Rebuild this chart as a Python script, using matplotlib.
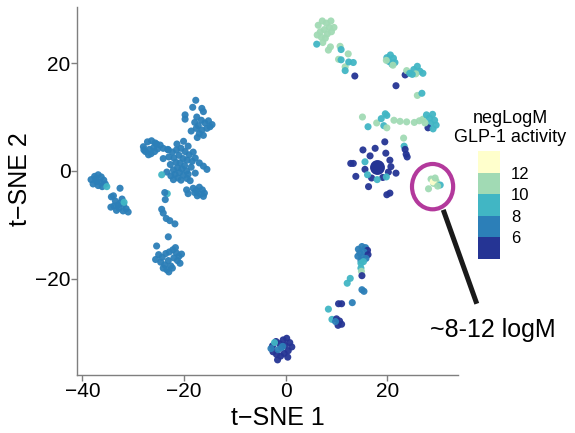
import matplotlib
matplotlib.use("Agg")
import matplotlib.pyplot as plt
import numpy as np
from matplotlib.colors import BoundaryNorm, ListedColormap
from matplotlib.patches import Ellipse

plt.rcParams["font.family"] = ["Liberation Sans", "DejaVu Sans"]

# activity levels used for colouring: 5 (<6), 7 (6-8), 9 (8-10), 11 (10-12), 13 (>12)
bounds = [4, 6, 8, 10, 12, 14]
level_colors = ["#253494", "#2c7fb8", "#41b6c4", "#a1dab4", "#ffffcc"]
cbar_ticks = [6, 8, 10, 12]

# far-left cluster
left_x = [-38.3, -37.6, -36.9, -36.3, -37.2, -36.5, -35.8, -37.9, -36.9, -36.1, -37.4, -35.5,
          -34.3, -33.5, -32.6, -33.0, -32.2, -33.8, -32.8, -31.9, -31.4, -34.4, -33.3, -32.5,
          -33.9, -31.0, -32.0, -35.2, -31.8]
left_y = [-1.6, -1.0, -0.7, -1.1, -2.0, -2.1, -1.7, -2.4, -2.7, -2.9, -1.4, -2.4,
          -4.8, -5.6, -3.2, -6.3, -5.2, -6.5, -6.9, -6.2, -7.0, -6.7, -7.3, -5.9,
          -4.6, -7.6, -7.4, -2.9, -5.8]
left_v = [7] * 27 + [9, 9]

# central left cluster
mid_x = [-22.3, -21.5, -20.6, -19.8, -19.0, -21.0, -22.0, -20.2, -19.4, -21.6, -20.8, -22.7,
         -19.9, -21.3, -20.4, -22.1, -19.5, -20.9, -21.8, -20.1, -22.6, -19.2, -21.2, -20.6,
         -22.1, -19.4, -18.6, -18.4, -21.4, -20.1, -19.2, -17.8, -16.2, -17.8, -18.8, -23.0,
         -23.4, -23.2, -18.2, -17.0, -15.5, -19.5,
         -18.2, -17.6, -17.0, -16.4, -16.0, -16.8, -17.4, -16.2, -17.9, -19.2]
mid_y = [3.5, 3.9, 4.2, 3.6, 3.0, 2.9, 2.4, 2.3, 2.0, 1.6, 1.5, 1.2,
         1.0, 0.6, 0.4, 0.2, 0.0, -0.3, -0.6, -0.8, -0.9, -0.6, -1.3, -1.7,
         -1.6, -1.4, 0.7, 1.8, 5.0, 5.5, 4.6, 2.4, 0.9, -0.4, -1.8, 2.6,
         -0.2, 4.0, 3.5, 1.5, 0.3, -3.5,
         -3.2, -3.6, -3.0, -3.5, -4.1, -4.3, -4.6, -4.7, -4.0, -4.2]
mid_v = [7] * 52

# upper-left arm
arm_x = [-28.0, -27.2, -26.4, -25.7, -24.7, -27.6, -26.8, -26.0, -26.5, -25.8, -27.9, -25.2,
         -24.1, -23.1, -24.1, -25.4, -27.0]
arm_y = [4.5, 5.4, 5.6, 5.2, 4.8, 3.6, 4.0, 4.3, 3.2, 3.6, 3.9, 4.1,
         4.2, 3.9, 2.3, 5.0, 3.0]
arm_v = [7] * 17

# top cluster of the left group
up_x = [-17.7, -18.3, -16.5, -16.2, -19.8, -19.8, -17.5, -17.9, -17.2, -15.9, -14.9, -15.5,
        -16.5, -17.6, -17.0, -16.2, -17.4, -14.5, -15.2, -16.6, -18.6]
up_y = [13.1, 11.8, 11.6, 11.0, 10.4, 9.6, 10.0, 9.0, 8.4, 8.9, 8.2, 7.9,
        7.6, 7.9, 6.9, 6.6, 6.2, 8.6, 9.3, 9.4, 7.4]
up_v = [7] * 21

# chain and lower cluster of the left group
low_x = [-24.4, -23.3, -23.8, -23.7, -24.4, -24.1, -23.5, -22.8, -21.8, -23.1,
         -25.4, -25.0, -24.3, -23.6, -24.6, -23.8, -23.1, -22.6, -23.4, -24.1, -22.9,
         -22.2, -21.5, -21.0, -20.5, -21.3, -20.8, -22.0, -21.7, -23.0, -22.3, -25.6]
low_y = [-0.7, -4.2, -4.0, -5.3, -7.1, -7.8, -8.8, -9.2, -9.8, -12.2,
         -13.9, -15.5, -16.0, -15.3, -16.9, -17.4, -16.6, -17.6, -18.3, -18.0, -15.0,
         -14.6, -15.2, -15.8, -15.4, -16.6, -17.1, -16.1, -14.2, -18.7, -18.0, -16.4]
low_v = [9, 9] + [7] * 30

# bottom cluster near x=0
bot_x = [-2.6, -1.9, -1.2, -0.5, 0.2, 0.8, 1.2, 0.5, -0.3, -1.0, -1.8, -2.5,
         -1.5, -0.8, -0.1, -2.2, -1.6, 0.4, -2.9, -0.6]
bot_y = [-32.4, -31.6, -32.0, -31.3, -31.0, -31.8, -32.6, -33.3, -33.8, -34.3, -34.0, -33.5,
         -33.1, -32.7, -32.3, -31.8, -35.0, -34.5, -32.9, -32.5]
bot_v = [5] * 12 + [7, 7, 5, 9, 5, 5, 7, 7]

# top right cluster
top_x = [6.4, 7.2, 8.0, 8.6, 7.6, 6.8, 8.2, 9.0, 9.5, 7.0, 7.8, 6.2, 7.3, 8.4, 10.7, 12.3,
         10.4, 11.7, 8.8, 8.9, 6.1, 10.9, 10.9, 12.4, 13.3, 11.7, 13.6]
top_y = [27.0, 27.8, 27.4, 26.6, 26.2, 25.8, 25.4, 25.8, 26.6, 24.8, 24.6, 25.2, 23.8, 22.4,
         23.1, 21.7, 20.7, 19.3, 23.0, 27.8, 23.5, 22.5, 20.6, 20.2, 20.1, 18.6, 17.6]
top_v = [11] * 20 + [9] * 6 + [5]

# right clusters around y=18
r18_x = [19.9, 20.6, 21.2, 20.3, 21.5, 20.9, 21.1, 19.8, 23.5, 21.7,
         23.8, 24.4, 25.2, 25.9, 26.4, 27.0, 25.6, 24.9, 25.9, 26.8]
r18_y = [21.0, 21.5, 20.9, 20.3, 20.1, 19.8, 19.6, 20.5, 17.8, 15.8,
         18.6, 18.1, 18.8, 19.4, 18.5, 18.1, 18.0, 17.9, 14.0, 14.4]
r18_v = [9, 9, 9, 9, 9, 9, 11, 11, 5, 5,
         11, 9, 9, 9, 9, 9, 11, 9, 11, 9]

# row around y=9 and its tail
r9_x = [15.1, 16.2, 17.9, 18.8, 19.9, 19.3, 19.9, 19.6, 21.3, 22.5, 23.8, 25.3, 27.0, 27.7,
        28.3, 28.9, 29.3, 28.5, 29.6, 28.0, 27.4, 29.0, 26.3,
        23.2, 23.3, 23.5, 23.7, 23.9]
r9_y = [10.0, 8.2, 8.9, 9.7, 10.3, 8.4, 8.0, 10.6, 9.4, 9.2, 9.1, 9.0, 9.6, 10.4,
        9.8, 10.5, 9.4, 8.8, 8.5, 8.0, 8.9, 7.8, 9.3,
        6.1, 4.6, 4.0, 3.1, 2.6]
r9_v = [11, 9, 11, 9, 9, 9, 11, 9, 11, 11, 11, 11, 11, 9,
        9, 9, 9, 9, 9, 5, 11, 9, 11,
        11, 9, 5, 5, 5]

# dark ring cluster
ring_x = [12.8, 13.3, 15.2, 16.6, 17.6, 19.5, 19.7, 20.5, 20.7, 21.7, 20.2, 19.1, 16.9,
          15.6, 13.8, 16.3, 19.9, 20.5, 15.6, 16.1, 18.0, 19.8]
ring_y = [1.4, 1.4, 3.9, 2.8, 4.2, 5.4, 3.3, 2.0, 0.8, -0.4, -0.2, -1.2, -1.3,
          0.3, -1.0, -2.9, -4.4, -4.1, 1.7, -0.7, -1.6, -1.1]
ring_v = [5] * 18 + [9, 9, 9, 9]
hub_x, hub_y, hub_v = [17.9], [0.8], [5]

# circled cluster
circ_x = [28.6, 29.1, 29.6, 30.4, 28.1, 29.0, 29.9, 29.4]
circ_y = [-1.5, -2.3, -1.9, -2.6, -3.3, -2.0, -2.8, -1.3]
circ_v = [11, 11, 11, 9, 11, 13, 11, 11]

# lower right chain
lr_x = [14.3, 15.0, 15.7, 16.1, 14.6, 15.4, 16.2, 14.2, 15.0, 15.8, 14.8, 15.3,
        14.8, 14.8, 14.9, 15.0, 12.7, 12.1, 15.0, 15.4, 10.4, 11.0, 13.1, 8.4,
        9.1, 10.0, 10.6, 11.0, 10.3, 9.8]
lr_y = [-14.5, -14.0, -14.2, -14.7, -15.2, -15.0, -15.5, -15.8, -16.0, -16.2, -16.6, -16.8,
        -17.1, -18.0, -18.6, -19.4, -19.9, -20.8, -22.0, -22.3, -24.6, -24.6, -24.4, -25.6,
        -27.5, -27.4, -27.8, -28.4, -28.6, -27.9]
lr_v = [7, 7, 7, 5, 7, 7, 5, 7, 7, 7, 7, 9,
        9, 9, 11, 5, 9, 9, 7, 7, 5, 5, 7, 9,
        9, 5, 5, 5, 5, 7]

tsne1 = np.array(left_x + mid_x + arm_x + up_x + low_x + bot_x + top_x + r18_x + r9_x
                 + ring_x + circ_x + lr_x)
tsne2 = np.array(left_y + mid_y + arm_y + up_y + low_y + bot_y + top_y + r18_y + r9_y
                 + ring_y + circ_y + lr_y)
neglogm = np.array(left_v + mid_v + arm_v + up_v + low_v + bot_v + top_v + r18_v + r9_v
                   + ring_v + circ_v + lr_v)

cmap = ListedColormap(level_colors)
norm = BoundaryNorm(bounds, cmap.N)

fig = plt.figure(figsize=(5.75, 4.33), dpi=100)
ax = fig.add_axes([0.1345, 0.134, 0.662, 0.850])

sc = ax.scatter(tsne1, tsne2, c=neglogm, cmap=cmap, norm=norm, s=26, linewidths=0, alpha=0.95)
ax.scatter(hub_x, hub_y, c=hub_v, cmap=cmap, norm=norm, s=115, linewidths=0)

ax.set_xlim(-41.0, 33.9)
ax.set_ylim(-37.8, 30.4)
ax.set_xticks([-40, -20, 0, 20])
ax.set_yticks([-20, 0, 20])
ax.set_xticklabels(["\u221240", "\u221220", "0", "20"])
ax.set_yticklabels(["\u221220", "0", "20"])
for side in ["top", "right"]:
    ax.spines[side].set_visible(False)
for side in ["left", "bottom"]:
    ax.spines[side].set_color("#7f7f7f")
    ax.spines[side].set_linewidth(1.0)
ax.tick_params(axis="both", colors="#7f7f7f", labelcolor="black", labelsize=15,
               length=4, width=1.0, pad=1)

ax.set_xlabel("t\u2212SNE 1", fontsize=18, labelpad=0)
ax.set_ylabel("t\u2212SNE 2", fontsize=18, labelpad=2)
ax.xaxis.set_label_coords(0.528, -0.085)
ax.yaxis.set_label_coords(-0.118, 0.531)

# highlight circle and pointer
ax.add_patch(Ellipse((28.9, -2.9), 8.1, 8.4, fill=False, edgecolor="#b3399c", linewidth=3.0,
                     clip_on=False))
ax.plot([31.0, 37.6], [-7.2, -24.6], color="#1a1a1a", linewidth=3.6, clip_on=False,
        solid_capstyle="butt")
fig.text(0.857, 0.238, "~8-12 logM", fontsize=18, ha="center", va="center")

# colour bar
cax = fig.add_axes([0.831, 0.402, 0.038, 0.249])
cb = fig.colorbar(sc, cax=cax, boundaries=bounds, ticks=cbar_ticks)
cb.outline.set_visible(False)
cb.solids.set_alpha(1)
cax.minorticks_off()
cax.tick_params(length=0, labelsize=12, pad=8)
fig.text(0.887, 0.705, "negLogM\nGLP-1 activity", fontsize=13, ha="center", va="center",
         linespacing=1.15)

fig.savefig("out.png", dpi=100)
